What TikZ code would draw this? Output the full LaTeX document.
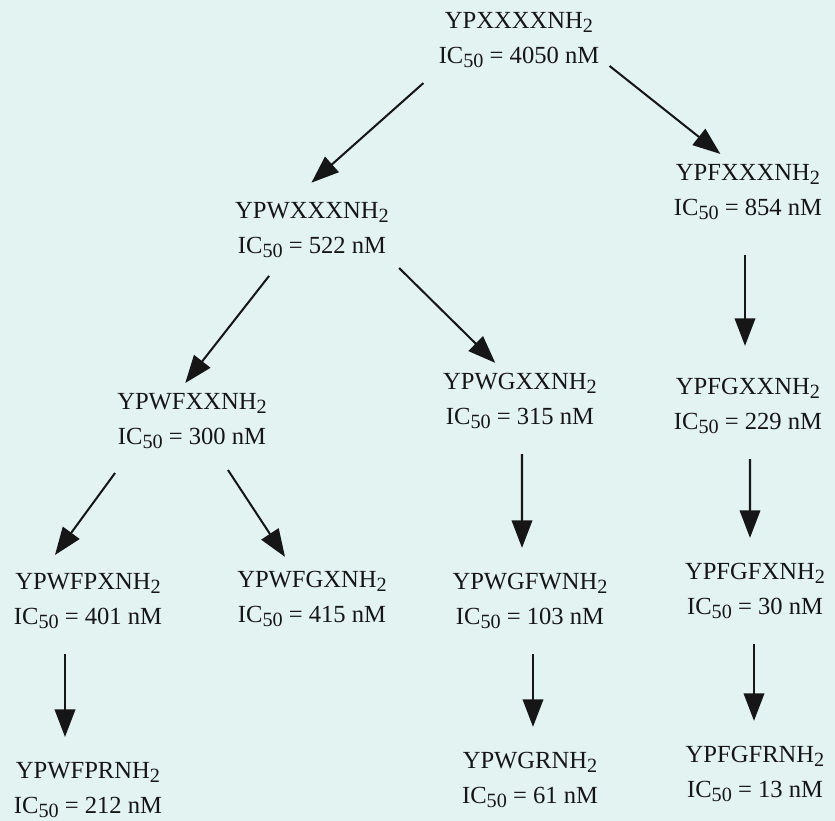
\documentclass[tikz,border=0pt]{standalone}
\usepackage{fontspec}
\setmainfont{Liberation Serif}
\usepackage{xcolor}
\usetikzlibrary{arrows.meta}

\definecolor{paper}{HTML}{E3F3F2}
\definecolor{ink}{HTML}{161616}
\newcommand{\lowdigits}[1]{\raisebox{-0.35ex}{\fontsize{11.5}{12}\selectfont#1}}
\newcommand{\amide}{NH\lowdigits{2}}
\newcommand{\icfifty}{IC\lowdigits{50}}

\begin{document}
\begin{tikzpicture}[
  x=0.02cm, y=-0.02cm,
  pep/.style={align=center, text=ink, inner sep=0.2cm, font=\fontsize{14}{20}\selectfont},
  arr/.style={-{Triangle[length=0.55cm, width=0.41cm]}, line width=1.15pt, draw=ink},
  down/.style={arr, shorten <=0.3cm, shorten >=0.3cm}
]
\fill[paper] (0,0) rectangle (835,821);
\useasboundingbox (0,0) rectangle (835,821);

% first round
\node[pep] (top) at (519,40) {YPXXXX\amide\\\icfifty{} = 4050 nM};
% second round
\node[pep] (w) at (312,230) {YPWXXX\amide\\\icfifty{} = 522 nM};
\node[pep] (f) at (748,192) {YPFXXX\amide\\\icfifty{} = 854 nM};
% third round
\node[pep] (wf) at (192,421) {YPWFXX\amide\\\icfifty{} = 300 nM};
\node[pep] (wg) at (520,401) {YPWGXX\amide\\\icfifty{} = 315 nM};
\node[pep] (fg) at (748,406) {YPFGXX\amide\\\icfifty{} = 229 nM};
% fourth round
\node[pep] (wfp) at (88,601) {YPWFPX\amide\\\icfifty{} = 401 nM};
\node[pep] (wfg) at (312,599) {YPWFGX\amide\\\icfifty{} = 415 nM};
\node[pep] (wgf) at (530,601) {YPWGFW\amide\\\icfifty{} = 103 nM};
\node[pep] (fgf) at (755,591) {YPFGFX\amide\\\icfifty{} = 30 nM};
% last round
\node[pep] (wfpr) at (88,790) {YPWFPR\amide\\\icfifty{} = 212 nM};
\node[pep] (wgr) at (530,780) {YPWGR\amide\\\icfifty{} = 61 nM};
\node[pep] (fgfr) at (755,774) {YPFGFR\amide\\\icfifty{} = 13 nM};

% branching arrows
\draw[arr, shorten >=0.28cm] ([shift={(-0.1cm,-0.1cm)}]top.south west) -- ([xshift=-0.22cm]w.north);
\draw[arr] (top.-16) -- (f.126);
\draw[arr, shorten <=0.2cm] (w.226) -- (wf.100);
\draw[arr] (w.south east) -- (wg.123);
\draw[arr] ([shift={(-1.54cm,-0.28cm)}]wf.south) -- ([shift={(-0.66cm,0.16cm)}]wfp.north);
\draw[arr] ([shift={(0.72cm,-0.22cm)}]wf.south) -- ([shift={(-0.54cm,0.08cm)}]wfg.north);
% straight-down arrows
\draw[down, shorten <=0.5cm, shorten >=0.44cm] ([xshift=-0.06cm]f.south) -- ([xshift=-0.06cm]fg.north);
\draw[down] ([xshift=0.04cm]wg.south) -- ([xshift=-0.16cm]wgf.north);
\draw[down] ([xshift=0.04cm]fg.south) -- ([xshift=-0.1cm]fgf.north);
\draw[down] ([xshift=-0.46cm]wfp.south) -- ([xshift=-0.46cm]wfpr.north);
\draw[down] ([xshift=0.06cm]wgf.south) -- ([xshift=0.06cm]wgr.north);
\draw[down] ([xshift=-0.02cm]fgf.south) -- ([xshift=-0.02cm]fgfr.north);
\end{tikzpicture}
\end{document}
